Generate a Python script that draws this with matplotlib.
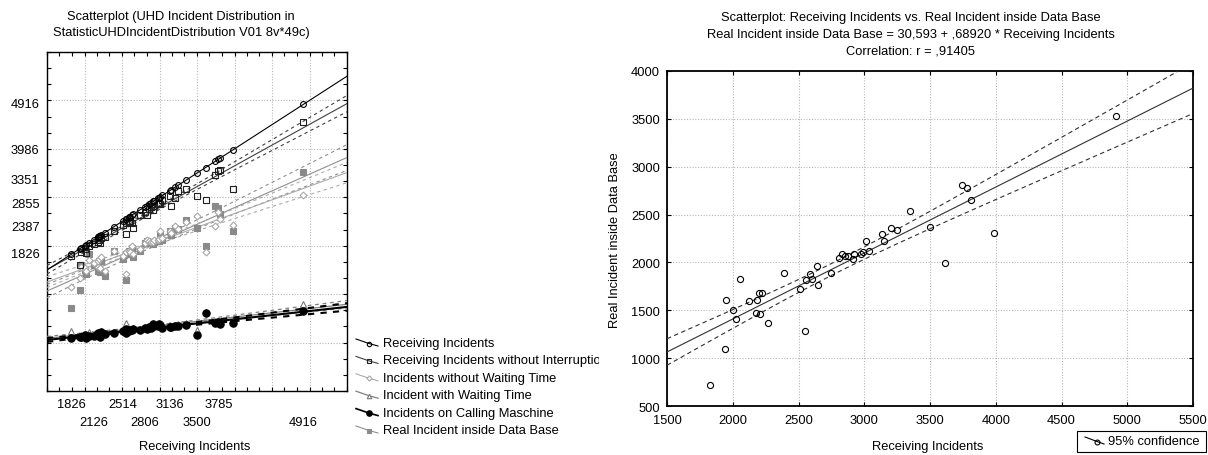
import numpy as np
import matplotlib
matplotlib.use("Agg")
import matplotlib.pyplot as plt
from matplotlib.lines import Line2D
from matplotlib.patches import Rectangle
from matplotlib.ticker import MultipleLocator
from matplotlib.transforms import Bbox, TransformedBbox

plt.rcParams['font.family'] = ['Liberation Sans', 'DejaVu Sans']
plt.rcParams['font.size'] = 9.3

# ---- data: one row per case, sorted by Receiving Incidents ----
receiving = [1826, 1941, 1949, 2002, 2022, 2057, 2126, 2179, 2184, 2197,
             2207, 2222, 2268, 2387, 2514, 2549, 2556, 2587, 2600, 2638,
             2651, 2745, 2806, 2828, 2855, 2880, 2917, 2924, 2975, 2990,
             3013, 3038, 3136, 3152, 3203, 3247, 3351, 3500, 3614, 3741,
             3785, 3812, 3986, 4916]
real_db = [719, 1095, 1607, 1506, 1409, 1823, 1597, 1471, 1610, 1683,
           1461, 1683, 1370, 1886, 1725, 1283, 1820, 1882, 1822, 1959,
           1760, 1893, 2046, 2088, 2070, 2062, 2036, 2085, 2088, 2105,
           2224, 2122, 2297, 2227, 2360, 2339, 2534, 2373, 1994, 2814,
           2774, 2652, 2310, 3527]
without_interruption = [1790, 1605, 1880, 1930, 1850, 1990, 2040, 2080, 2110, 2120,
                        2050, 2160, 2180, 2294, 2433, 2250, 2470, 2480, 2520, 2468,
                        2364, 2640, 2700, 2640, 2760, 2790, 2743, 2830, 2870, 2880,
                        2867, 2940, 3030, 2812, 2985, 3140, 3178, 3019, 2950, 3468,
                        3536, 3571, 3178, 4559]
without_waiting = [1150, 1330, 1560, 1550, 1480, 1700, 1640, 1560, 1690, 1720,
                   1540, 1760, 1470, 1900, 1790, 1420, 1860, 1900, 1870, 1990,
                   1820, 1930, 2060, 2110, 2090, 2080, 2070, 2120, 2110, 2140,
                   2294, 2150, 2310, 2260, 2400, 2340, 2480, 2605, 1880, 2398,
                   2700, 2560, 2430, 3054]
with_waiting = [238, 140, 150, 170, 130, 215, 160, 170, 220, 190,
                150, 240, 200, 220, 260, 398, 290, 260, 280, 280,
                310, 290, 330, 310, 350, 340, 400, 370, 380, 400,
                390, 330, 360, 350, 370, 380, 400, 259, 640, 445,
                450, 420, 430, 791]
calling_machine = [90, 110, 120, 150, 100, 140, 130, 150, 200, 160,
                   120, 210, 170, 190, 230, 200, 270, 230, 260, 250,
                   290, 260, 300, 280, 330, 310, 380, 340, 350, 380,
                   360, 300, 330, 320, 340, 350, 370, 155, 617, 410,
                   420, 390, 400, 660]

x_tick_row1 = [1826, 2514, 3136, 3785]
x_tick_row2 = [2126, 2806, 3500, 4916]
y_tick_values = [1826, 2387, 2855, 3351, 3986, 4916]

intercept = 30.593
slope = 0.68920
r_value = 0.91405

W, H = 1208, 456


def fx(px):
    return px / W


def fy(py):
    return 1 - py / H


def fit_band(x, y, grid, a=None, b=None, t=2.018):
    x = np.asarray(x, float)
    y = np.asarray(y, float)
    if a is None:
        b, a = np.polyfit(x, y, 1)
    resid = y - (a + b * x)
    n = len(x)
    s = np.sqrt(np.sum(resid ** 2) / (n - 2))
    sxx = np.sum((x - x.mean()) ** 2)
    half = t * s * np.sqrt(1 / n + (grid - x.mean()) ** 2 / sxx)
    fit = a + b * grid
    return fit, fit - half, fit + half


def comma_num(v, digits):
    s = f"{v:.{digits}f}".replace('.', ',')
    if s.startswith('0,'):
        s = s[1:]
    return s


fig = plt.figure(figsize=(W / 100, H / 100), dpi=100)
fig.patch.set_facecolor('white')

# ================= left panel: multiple scatterplot =================
axL = fig.add_axes([fx(47), fy(392), 300 / W, 339 / H])
axL.set_xlim(1500, 5500)
axL.set_ylim(-1000, 6000)
axL.set_xticks(np.arange(1500, 5501, 500))
axL.set_yticks(np.arange(-1000, 6001, 1000))
axL.xaxis.set_minor_locator(MultipleLocator(500 / 3))
axL.yaxis.set_minor_locator(MultipleLocator(1000 / 3))
axL.tick_params(which='both', direction='in', top=True, right=True,
                length=3, width=0.8, labelbottom=False, labelleft=False)
axL.grid(True, which='major', ls=(0, (1, 1.5)), color='#b8b8b8', lw=0.8)
for sp in axL.spines.values():
    sp.set_linewidth(1.0)

gridL = np.linspace(1500, 5500, 200)

series = [
    # values, label, marker, face, edge, size, line colour, line width, band
    (real_db, 'Real Incident inside Data Base', 's', '#8a8a8a', '#8a8a8a', 4.8, '#8f8f8f', 0.8, True),
    (without_waiting, 'Incidents without Waiting Time', 'D', 'white', '#a8a8a8', 3.5, '#ababab', 0.8, True),
    (without_interruption, 'Receiving Incidents without Interruption', 's', 'none', '#202020', 4.8, '#404040', 0.8, True),
    (receiving, 'Receiving Incidents', 'o', 'none', '#000000', 4.2, '#000000', 0.8, False),
    (with_waiting, 'Incident with Waiting Time', '^', 'white', '#7a7a7a', 4.3, '#808080', 0.9, True),
    (calling_machine, 'Incidents on Calling Maschine', 'o', '#000000', '#000000', 5.3, '#000000', 1.5, True),
]

for vals, label, mk, mfc, mec, ms, lc, lw, band in series:
    if label == 'Real Incident inside Data Base':
        fit, lo, hi = fit_band(receiving, vals, gridL, a=intercept, b=slope)
    else:
        fit, lo, hi = fit_band(receiving, vals, gridL)
    axL.plot(gridL, fit, color=lc, lw=lw, zorder=3)
    if band:
        axL.plot(gridL, lo, color=lc, lw=lw, ls=(0, (3, 3)), zorder=3)
        axL.plot(gridL, hi, color=lc, lw=lw, ls=(0, (3, 3)), zorder=3)
    axL.plot(receiving, vals, ls='none', marker=mk, mfc=mfc, mec=mec,
             ms=ms, mew=0.8, zorder=4)

# staggered value labels on the x axis, value labels on the y axis
for v in x_tick_row1:
    axL.text(v, -0.038, str(v), transform=axL.get_xaxis_transform(),
             ha='center', va='center')
for v in x_tick_row2:
    axL.text(v, -0.091, str(v), transform=axL.get_xaxis_transform(),
             ha='center', va='center')
for v in y_tick_values:
    axL.text(-0.025, v, str(v), transform=axL.get_yaxis_transform(),
             ha='right', va='center')

fig.text(fx(195), fy(447), 'Receiving Incidents', ha='center', va='center')
fig.text(fx(181), fy(17), 'Scatterplot (UHD Incident Distribution in',
         ha='center', va='center')
fig.text(fx(181), fy(33), 'StatisticUHDIncidentDistribution V01 8v*49c)',
         ha='center', va='center')

# legend for the left panel, clipped at the panel edge
legend_order = ['Receiving Incidents', 'Receiving Incidents without Interruption',
                'Incidents without Waiting Time', 'Incident with Waiting Time',
                'Incidents on Calling Maschine', 'Real Incident inside Data Base']
spec = {s[1]: s for s in series}
clip = TransformedBbox(Bbox([[0, 0], [fx(599), 1]]), fig.transFigure)
for i, name in enumerate(legend_order):
    _, _, mk, mfc, mec, ms, lc, lw, _ = spec[name]
    py = 344 + i * 17.4
    sym = Line2D([fx(356), fx(369), fx(378)], [fy(py - 4), fy(py + 0.5), fy(py + 3)],
                 transform=fig.transFigure, color=lc, lw=min(lw, 1.2),
                 marker=mk, markevery=[1], mfc=mfc, mec=mec, ms=ms * 0.75, mew=0.8)
    fig.add_artist(sym)
    t = fig.text(fx(383), fy(py), name, ha='left', va='center')
    t.set_clip_box(clip)
    t.set_clip_on(True)

# ================= right panel: single scatterplot =================
axR = fig.add_axes([fx(667), fy(407), 526 / W, 335 / H])
axR.set_xlim(1500, 5500)
axR.set_ylim(500, 4000)
axR.set_xticks(np.arange(1500, 5501, 500))
axR.set_yticks(np.arange(500, 4001, 500))
axR.tick_params(which='both', direction='in', top=True, right=True,
                length=3, width=0.8, pad=6)
axR.tick_params(axis='y', pad=5)
axR.grid(True, ls=(0, (1, 1.5)), color='#b8b8b8', lw=0.8)
for sp in axR.spines.values():
    sp.set_linewidth(1.3)

gridR = np.linspace(1500, 5500, 200)
fitR, loR, hiR = fit_band(receiving, real_db, gridR, a=intercept, b=slope)
axR.plot(gridR, fitR, color='#303030', lw=0.8, zorder=3)
axR.plot(gridR, loR, color='#303030', lw=0.8, ls=(0, (4, 3)), zorder=3)
axR.plot(gridR, hiR, color='#303030', lw=0.8, ls=(0, (4, 3)), zorder=3)
axR.plot(receiving, real_db, ls='none', marker='o', mfc='none', mec='black',
         ms=4.4, mew=0.8, zorder=4)

fig.text(fx(615), fy(240), 'Real Incident inside Data Base', rotation=90,
         ha='center', va='center')
fig.text(fx(928), fy(447), 'Receiving Incidents', ha='center', va='center')

fig.text(fx(911), fy(18),
         'Scatterplot: Receiving Incidents vs. Real Incident inside Data Base',
         ha='center', va='center')
fig.text(fx(911), fy(35),
         f'Real Incident inside Data Base = {comma_num(intercept, 3)} + '
         f'{comma_num(slope, 5)} * Receiving Incidents',
         ha='center', va='center')
fig.text(fx(911), fy(52), f'Correlation: r = {comma_num(r_value, 5)}',
         ha='center', va='center')

# legend box for the right panel
fig.add_artist(Rectangle((fx(1077), fy(453)), 129 / W, 21 / H,
                         transform=fig.transFigure, fill=False,
                         ec='black', lw=0.8))
fig.add_artist(Line2D([fx(1085), fx(1097), fx(1104)], [fy(438), fy(442.5), fy(445)],
                      transform=fig.transFigure, color='black', lw=0.8,
                      marker='o', markevery=[1], mfc='none', mec='black',
                      ms=3.5, mew=0.8))
fig.text(fx(1108), fy(442), '95% confidence', ha='left', va='center')

fig.savefig('out.png', dpi=100, facecolor='white')
